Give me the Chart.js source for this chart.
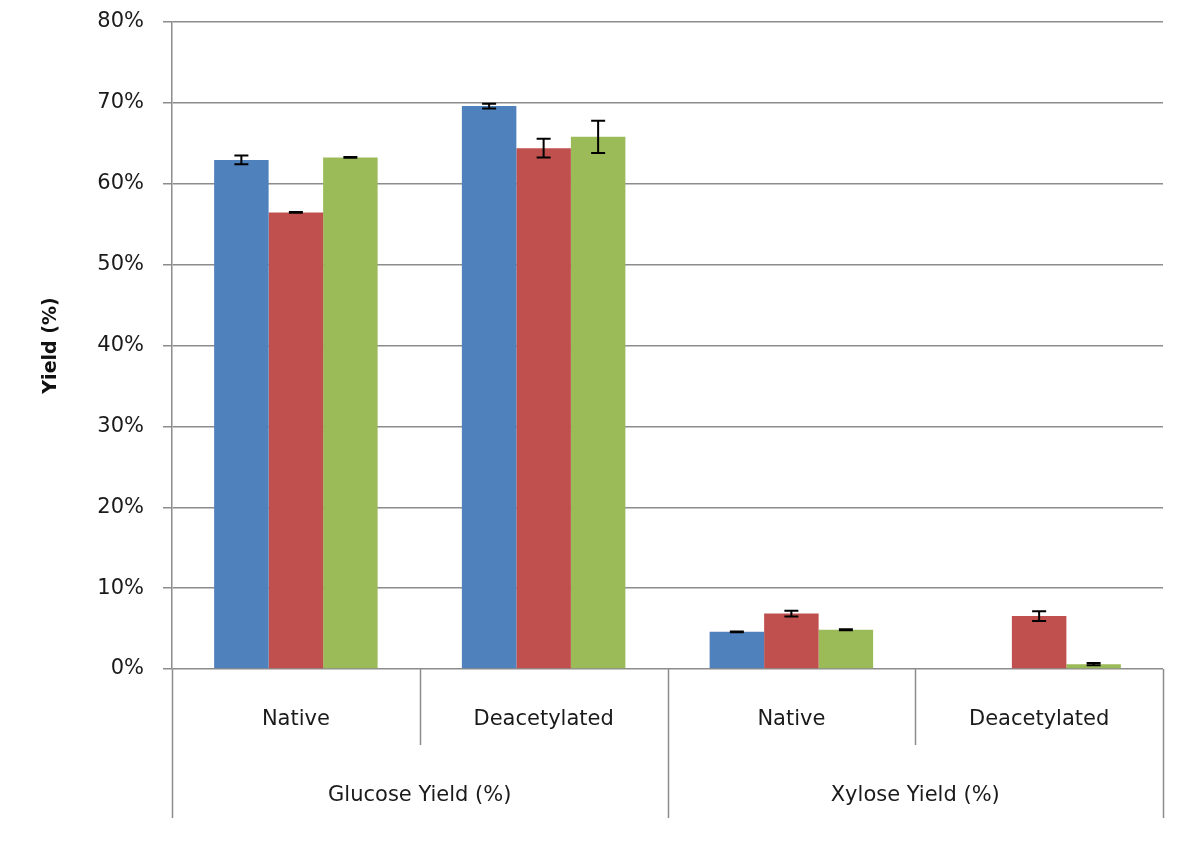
<!DOCTYPE html>
<html>
<head>
<meta charset="utf-8">
<script src="https://cdn.jsdelivr.net/npm/chart.js@4/dist/chart.umd.min.js"></script>
<style>
  html, body { margin: 0; padding: 0; background: #fff; }
  #wrap { width: 1200px; height: 862px; }
</style>
</head>
<body>
<div id="wrap"><canvas id="myChart" width="1200" height="862"></canvas></div>
<script>
// sub-categories along the x axis, and the groups under them
var subLabels = ['Native', 'Deacetylated', 'Native', 'Deacetylated'];
var groupLabels = ['Glucose Yield (%)', 'Xylose Yield (%)'];
var groupSpan = [2, 2];

// three series (yield %) and their error bars
var blueVals  = [62.95, 69.6, 4.6, 0];
var blueErr   = [0.55, 0.3, 0.05, 0];
var redVals   = [56.45, 64.4, 6.85, 6.55];
var redErr    = [0.05, 1.15, 0.35, 0.6];
var greenVals = [63.25, 65.8, 4.85, 0.6];
var greenErr  = [0.05, 2.0, 0.05, 0.15];

var yTicks = [0, 10, 20, 30, 40, 50, 60, 70, 80];

var fontFam = '"DejaVu Sans", Verdana, sans-serif';
var gridCol = '#8c8c8c';

// error bars drawn from the y scale
var errorBars = {
  id: 'errorBars',
  afterDatasetsDraw: function(chart) {
    var ctx = chart.ctx, y = chart.scales.y;
    ctx.save();
    ctx.strokeStyle = '#000';
    ctx.lineWidth = 2;
    chart.data.datasets.forEach(function(ds, di) {
      var meta = chart.getDatasetMeta(di);
      meta.data.forEach(function(bar, i) {
        var e = ds.errors[i];
        if (ds.data[i] === 0 && e === 0) return;
        var yt = y.getPixelForValue(ds.data[i] + e);
        var yb = y.getPixelForValue(ds.data[i] - e);
        ctx.beginPath();
        ctx.moveTo(bar.x, yt); ctx.lineTo(bar.x, yb);
        ctx.moveTo(bar.x - 7, yt); ctx.lineTo(bar.x + 7, yt);
        ctx.moveTo(bar.x - 7, yb); ctx.lineTo(bar.x + 7, yb);
        ctx.stroke();
      });
    });
    ctx.restore();
  }
};

// separators and group labels below the x axis
var groupAxis = {
  id: 'groupAxis',
  afterDraw: function(chart) {
    var ctx = chart.ctx, x = chart.scales.x;
    var base = chart.chartArea.bottom;
    var w = (x.right - x.left) / subLabels.length;
    ctx.save();
    ctx.strokeStyle = gridCol;
    ctx.lineWidth = 1.5;
    var groupEdges = [0];
    var acc = 0;
    groupSpan.forEach(function(n) { acc += n; groupEdges.push(acc); });
    for (var k = 0; k <= subLabels.length; k++) {
      var px = Math.round(x.left + k * w) + 0.5;
      var isGroup = groupEdges.indexOf(k) >= 0;
      ctx.beginPath();
      ctx.moveTo(px, base);
      ctx.lineTo(px, isGroup ? base + 149 : base + 76);
      ctx.stroke();
    }
    ctx.fillStyle = '#1a1a1a';
    ctx.font = '21px ' + fontFam;
    ctx.textAlign = 'center';
    ctx.textBaseline = 'middle';
    groupLabels.forEach(function(lbl, g) {
      var cx = x.left + (groupEdges[g] + groupEdges[g + 1]) / 2 * w;
      ctx.fillText(lbl, cx, base + 127);
    });
    ctx.restore();
  }
};

var ctx = document.getElementById('myChart');
var myChart = new Chart(ctx, {
  type: 'bar',
  data: {
    labels: subLabels,
    datasets: [{
      label: 'Series 1',
      data: blueVals,
      errors: blueErr,
      backgroundColor: '#4f81bd'
    }, {
      label: 'Series 2',
      data: redVals,
      errors: redErr,
      backgroundColor: '#c0504d'
    }, {
      label: 'Series 3',
      data: greenVals,
      errors: greenErr,
      backgroundColor: '#9bbb59'
    }]
  },
  options: {
    responsive: false,
    animation: false,
    layout: { padding: { left: 0, right: 37, top: 22, bottom: 0 } },
    plugins: { legend: { display: false }, tooltip: { enabled: false } },
    datasets: { bar: { barPercentage: 1, categoryPercentage: 0.66 } },
    scales: {
      x: {
        grid: { display: false },
        border: { display: false },
        ticks: {
          color: '#1a1a1a',
          font: { family: fontFam, size: 21 },
          padding: 30,
          maxRotation: 0
        },
        afterFit: function(s) {
          s.height = 193;
          s.paddingLeft = 0; s.paddingRight = 0;
        }
      },
      y: {
        min: 0,
        max: 80,
        afterBuildTicks: function(s) {
          s.ticks = yTicks.map(function(v) { return { value: v }; });
        },
        grid: { color: gridCol, lineWidth: 1.5, tickLength: 9 },
        border: { color: gridCol, width: 1.5 },
        ticks: {
          color: '#1a1a1a',
          font: { family: fontFam, size: 21 },
          padding: 19,
          callback: function(v) { return v + '%'; }
        },
        title: {
          display: true,
          text: 'Yield (%)',
          color: '#111',
          font: { family: fontFam, size: 19, weight: 'bold' },
          padding: { top: 40, bottom: 0 }
        },
        afterFit: function(s) {
          s.width = 172;
          s.paddingTop = 0; s.paddingBottom = 0;
        }
      }
    }
  },
  plugins: [errorBars, groupAxis]
});
</script>
</body>
</html>
